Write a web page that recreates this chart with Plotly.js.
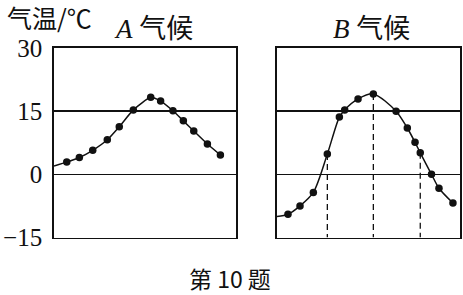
<!DOCTYPE html>
<html><head><meta charset="utf-8">
<script src="https://cdn.plot.ly/plotly-3.0.1.min.js"></script>
<style>html,body{margin:0;padding:0;background:#fff}</style>
</head><body><div id="chart" style="width:463px;height:295px"></div>
<script>
// A climate: point positions (month-like units) and temperatures (°C)
const aX = [0.98, 1.95, 2.98, 4.1, 5.02, 6.1, 7.44, 8.2, 9.15, 9.95, 10.75, 11.8, 12.8];
const aY = [2.9, 4.0, 5.7, 8.2, 11.3, 15.3, 18.3, 17.4, 15.1, 12.7, 10.3, 7.2, 4.6];
const aLeadX = [0];
const aLeadY = [2.0];
// B climate
const bX = [0.84, 1.76, 2.78, 3.85, 4.77, 5.18, 6.2, 7.37, 9.11, 9.97, 10.56, 10.96, 11.82, 12.39, 13.46];
const bY = [-9.5, -7.5, -4.3, 4.8, 13.6, 15.3, 17.9, 19.1, 15.0, 11.0, 7.6, 5.1, 0.0, -3.3, -6.8];
const bLeadX = [0];
const bLeadY = [-10.0];
const bDropIdx = [3, 7, 11];
const yTicks = [-15, 0, 15, 30];
const yTickText = ['\u221215', '0', '15', '30'];

const serif = 'Liberation Serif, Noto Sans CJK SC, serif';
const cjk = 'Noto Sans CJK SC, Liberation Serif, serif';
const ink = '#111';

const traces = [];
traces.push({x: aLeadX.concat(aX), y: aLeadY.concat(aY), mode: 'lines', line: {color: ink, width: 1.5, shape: 'spline', smoothing: 0.5}, xaxis: 'x', yaxis: 'y', hoverinfo: 'skip'});
traces.push({x: aX, y: aY, mode: 'markers', marker: {color: ink, size: 7.5}, xaxis: 'x', yaxis: 'y'});
bDropIdx.forEach(i => {
  traces.push({x: [bX[i], bX[i]], y: [bY[i], yTicks[0]], mode: 'lines', line: {color: ink, width: 1.3, dash: '6px,4px'}, xaxis: 'x2', yaxis: 'y2', hoverinfo: 'skip'});
});
traces.push({x: bLeadX.concat(bX), y: bLeadY.concat(bY), mode: 'lines', line: {color: ink, width: 1.5, shape: 'spline', smoothing: 0.8}, xaxis: 'x2', yaxis: 'y2', hoverinfo: 'skip'});
traces.push({x: bX, y: bY, mode: 'markers', marker: {color: ink, size: 7.5}, xaxis: 'x2', yaxis: 'y2'});

const W = 463, H = 295;
const yDom = [1 - 237.5 / H, 1 - 48 / H];
const xBase = {range: [0, 14], showgrid: false, zeroline: false, showticklabels: false, ticks: '', showline: true, mirror: true, linecolor: ink, linewidth: 1.8, fixedrange: true};
const yBase = {range: [-15, 30], tickvals: yTicks, ticktext: yTickText, showgrid: true, gridcolor: ink, gridwidth: 1.5, zeroline: false, ticks: '', showline: true, mirror: true, linecolor: ink, linewidth: 1.8, domain: yDom, fixedrange: true};

const layout = {
  width: W, height: H,
  margin: {l: 0, r: 0, t: 0, b: 0},
  paper_bgcolor: '#fff', plot_bgcolor: '#fff',
  showlegend: false,
  xaxis: Object.assign({}, xBase, {domain: [54 / W, 236 / W], anchor: 'y'}),
  yaxis: Object.assign({}, yBase, {anchor: 'x', showticklabels: true, tickfont: {family: serif, size: 25, color: ink}, ticklabelstandoff: 5}),
  xaxis2: Object.assign({}, xBase, {domain: [277 / W, 460 / W], anchor: 'y2'}),
  yaxis2: Object.assign({}, yBase, {anchor: 'x2', showticklabels: false}),
  annotations: [
    {text: '气温/℃', xref: 'paper', yref: 'paper', x: 5 / W, y: 1 - 17 / H, xanchor: 'left', yanchor: 'middle', showarrow: false, font: {family: cjk, size: 25, color: ink}},
    {text: '<i>A</i> 气候', xref: 'paper', yref: 'paper', x: 153 / W, y: 1 - 29 / H, xanchor: 'center', yanchor: 'middle', showarrow: false, font: {family: serif, size: 27, color: ink}},
    {text: '<i>B</i> 气候', xref: 'paper', yref: 'paper', x: 371 / W, y: 1 - 29 / H, xanchor: 'center', yanchor: 'middle', showarrow: false, font: {family: serif, size: 27, color: ink}},
    {text: '第 10 题', xref: 'paper', yref: 'paper', x: 230 / W, y: 1 - 278 / H, xanchor: 'center', yanchor: 'middle', showarrow: false, font: {family: cjk, size: 23, color: ink}}
  ]
};
Plotly.newPlot('chart', traces, layout, {staticPlot: true, displayModeBar: false});
</script></body></html>
